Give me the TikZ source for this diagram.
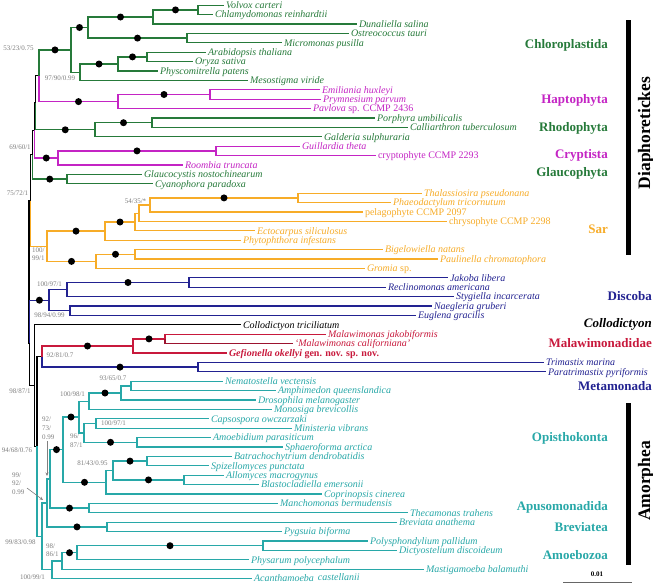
\documentclass[tikz,border=0pt]{standalone}
\usepackage{fontspec}
\setmainfont{Liberation Serif}
\usetikzlibrary{arrows.meta}
\definecolor{cgreen}{RGB}{38,122,58}
\definecolor{cmag}{RGB}{196,36,196}
\definecolor{corange}{RGB}{247,172,40}
\definecolor{cblue}{RGB}{34,34,145}
\definecolor{cred}{RGB}{200,25,60}
\definecolor{cteal}{RGB}{40,168,168}
\definecolor{cgray}{RGB}{128,128,128}
\newcommand{\tipf}{\fontsize{10}{11}\selectfont\itshape}
\newcommand{\supf}{\fontsize{7}{8}\selectfont}
\newcommand{\cladef}{\fontsize{13}{14}\selectfont\bfseries}
\newcommand{\bigf}{\fontsize{17.5}{19}\selectfont\bfseries}
\newcommand{\brn}[3]{\draw[brl,#1] (#2) |- (#3);}
\newcommand{\brd}[3]{\draw[brl,#1] (#2) |- (#3) node[pos=0.75,dotn]{};}
\tikzset{
  brl/.style={line width=1.35pt},
  dotn/.style={circle,fill=black,inner sep=0pt,minimum size=7pt},
  tip/.style={anchor=west,inner xsep=1.8pt,inner ysep=0pt,text height=6.6pt,text depth=0pt,font=\tipf},
  bsl/.style={font=\supf,text=cgray,inner sep=0pt},
  cladel/.style={anchor=east,inner sep=0pt,font=\cladef},
  grp/.style={font=\bigf,rotate=90,inner sep=0pt},
  arw/.style={cgray,line width=0.6pt,-{Stealth[length=3.5pt,width=3pt]}}
}
\begin{document}
\begin{tikzpicture}[x=1pt,y=-1pt]
\fill[white] (0,0) rectangle (653,584);
\useasboundingbox (0,0) rectangle (653,584);
% internal nodes
\coordinate (nVC) at (198,9.9);
\coordinate (nDun) at (153,17);
\coordinate (nOM) at (187,38.1);
\coordinate (nCa) at (88,27.5);
\coordinate (nAO) at (147,56.9);
\coordinate (nLP) at (118,64);
\coordinate (nStr) at (80,72.2);
\coordinate (nChl) at (71,49.9);
\coordinate (nEP) at (210,94.5);
\coordinate (nHap) at (118,101.6);
\coordinate (nCH) at (39,75.7);
\coordinate (nPC) at (152,122.7);
\coordinate (nRho) at (95,129.8);
\coordinate (nG) at (35.5,102.7);
\coordinate (nGc) at (216,150.9);
\coordinate (nCry) at (58,158);
\coordinate (nF) at (34.5,130.3);
\coordinate (nGla) at (67,179.1);
\coordinate (nE) at (32.5,154.7);
\coordinate (nTP) at (298,197.9);
\coordinate (nPel) at (150,205);
\coordinate (nChr) at (139,213.2);
\coordinate (nEct) at (135,222);
\coordinate (nStm) at (105,231.1);
\coordinate (nBP) at (135,254.3);
\coordinate (nRhz) at (96,261.4);
\coordinate (nSar) at (47,246.3);
\coordinate (nDia) at (30.5,200.5);
\coordinate (nJR) at (189,282.5);
\coordinate (nJRS) at (67,289.6);
\coordinate (nNE) at (70,310.7);
\coordinate (nDis) at (49,300.2);
\coordinate (nMM) at (165,338.9);
\coordinate (nMal) at (133,346);
\coordinate (nTri) at (198,367.1);
\coordinate (nMet) at (42,356.5);
\coordinate (nNA) at (131,385.9);
\coordinate (nDro) at (121,393);
\coordinate (nMon) at (89,401.2);
\coordinate (nCM) at (96,423.5);
\coordinate (nAS) at (137,442.3);
\coordinate (nIch) at (84,432.9);
\coordinate (nHol) at (79,417);
\coordinate (nBS) at (147,461.1);
\coordinate (nAB) at (184,479.9);
\coordinate (nBA) at (113,470.5);
\coordinate (nFun) at (106,482.3);
\coordinate (nOpi) at (63,449.6);
\coordinate (nApu) at (89,508.1);
\coordinate (nOA) at (50,478.9);
\coordinate (nBre) at (107,526.9);
\coordinate (nOb) at (47,502.9);
\coordinate (nPD) at (263,545.7);
\coordinate (nPhy) at (77,552.7);
\coordinate (nMas) at (62,561);
\coordinate (nAmz) at (52,569.8);
\coordinate (nAmo) at (42,536.4);
\coordinate (nB) at (37,446.4);
\coordinate (nA) at (34.5,385.6);
\coordinate (nX) at (29.8,343);
\coordinate (nR) at (29,271.8);
% tips
\node[tip,text=cgreen] (t0) at (224,5.2) {Volvox carteri};
\node[tip,text=cgreen] (t1) at (213,14.6) {Chlamydomonas reinhardtii};
\node[tip,text=cgreen] (t2) at (357,24.0) {Dunaliella salina};
\node[tip,text=cgreen] (t3) at (349,33.4) {Ostreococcus tauri};
\node[tip,text=cgreen] (t4) at (282,42.8) {Micromonas pusilla};
\node[tip,text=cgreen] (t5) at (206,52.2) {Arabidopsis thaliana};
\node[tip,text=cgreen] (t6) at (193,61.6) {Oryza sativa};
\node[tip,text=cgreen] (t7) at (158,71.0) {Physcomitrella patens};
\node[tip,text=cgreen] (t8) at (248,80.4) {Mesostigma viride};
\node[tip,text=cmag] (t9) at (320,89.8) {Emiliania huxleyi};
\node[tip,text=cmag] (t10) at (321,99.2) {Prymnesium parvum};
\node[tip,text=cmag] (t11) at (311,108.6) {Pavlova \upshape sp. CCMP 2436};
\node[tip,text=cgreen] (t12) at (375,118.0) {Porphyra umbilicalis};
\node[tip,text=cgreen] (t13) at (408,127.4) {Calliarthron tuberculosum};
\node[tip,text=cgreen] (t14) at (322,136.8) {Galderia sulphuraria};
\node[tip,text=cmag] (t15) at (300,146.2) {Guillardia theta};
\node[tip,text=cmag] (t16) at (376,155.6) {\upshape cryptophyte CCMP 2293};
\node[tip,text=cmag] (t17) at (183,165.0) {Roombia truncata};
\node[tip,text=cgreen] (t18) at (142,174.4) {Glaucocystis nostochinearum};
\node[tip,text=cgreen] (t19) at (153,183.8) {Cyanophora paradoxa};
\node[tip,text=corange] (t20) at (422,193.2) {Thalassiosira pseudonana};
\node[tip,text=corange] (t21) at (391,202.6) {Phaeodactylum tricornutum};
\node[tip,text=corange] (t22) at (363,212.0) {\upshape pelagophyte CCMP 2097};
\node[tip,text=corange] (t23) at (447,221.4) {\upshape chrysophyte CCMP 2298};
\node[tip,text=corange] (t24) at (255,230.8) {Ectocarpus siliculosus};
\node[tip,text=corange] (t25) at (241,240.2) {Phytophthora infestans};
\node[tip,text=corange] (t26) at (383,249.6) {Bigelowiella natans};
\node[tip,text=corange] (t27) at (438,259.0) {Paulinella chromatophora};
\node[tip,text=corange] (t28) at (365,268.4) {Gromia \upshape sp.};
\node[tip,text=cblue] (t29) at (448,277.8) {Jakoba libera};
\node[tip,text=cblue] (t30) at (386,287.2) {Reclinomonas americana};
\node[tip,text=cblue] (t31) at (454,296.6) {Stygiella incarcerata};
\node[tip,text=cblue] (t32) at (432,306.0) {Naegleria gruberi};
\node[tip,text=cblue] (t33) at (416,315.4) {Euglena gracilis};
\node[tip,text=black] (t34) at (241,324.8) {Collodictyon triciliatum};
\node[tip,text=cred] (t35) at (326,334.2) {Malawimonas jakobiformis};
\node[tip,text=cred] (t36) at (293,343.6) {`Malawimonas californiana'};
\node[tip,text=cred] (t37) at (227,353.0) {\bfseries Gefionella okellyi \upshape gen. nov. sp. nov.};
\node[tip,text=cblue] (t38) at (544,362.4) {Trimastix marina};
\node[tip,text=cblue] (t39) at (546,371.8) {Paratrimastix pyriformis};
\node[tip,text=cteal] (t40) at (223,381.2) {Nematostella vectensis};
\node[tip,text=cteal] (t41) at (276,390.6) {Amphimedon queenslandica};
\node[tip,text=cteal] (t42) at (256,400.0) {Drosophila melanogaster};
\node[tip,text=cteal] (t43) at (272,409.4) {Monosiga brevicollis};
\node[tip,text=cteal] (t44) at (209,418.8) {Capsospora owczarzaki};
\node[tip,text=cteal] (t45) at (292,428.2) {Ministeria vibrans};
\node[tip,text=cteal] (t46) at (211,437.6) {Amoebidium parasiticum};
\node[tip,text=cteal] (t47) at (283,447.0) {Sphaeroforma arctica};
\node[tip,text=cteal] (t48) at (232,456.4) {Batrachochytrium dendrobatidis};
\node[tip,text=cteal] (t49) at (209,465.8) {Spizellomyces punctata};
\node[tip,text=cteal] (t50) at (224,475.2) {Allomyces macrogynus};
\node[tip,text=cteal] (t51) at (259,484.6) {Blastocladiella emersonii};
\node[tip,text=cteal] (t52) at (322,494.0) {Coprinopsis cinerea};
\node[tip,text=cteal] (t53) at (278,503.4) {Manchomonas bermudensis};
\node[tip,text=cteal] (t54) at (408,512.8) {Thecamonas trahens};
\node[tip,text=cteal] (t55) at (397,522.2) {Breviata anathema};
\node[tip,text=cteal] (t56) at (282,531.6) {Pygsuia biforma};
\node[tip,text=cteal] (t57) at (368,541.0) {Polysphondylium pallidum};
\node[tip,text=cteal] (t58) at (397,550.4) {Dictyostelium discoideum};
\node[tip,text=cteal] (t59) at (249,559.8) {Physarum polycephalum};
\node[tip,text=cteal] (t60) at (424,569.2) {Mastigamoeba balamuthi};
\node[tip,text=cteal] (t61) at (252,578.6) {Acanthamoeba\hspace{4pt}\raisebox{1.5pt}{castellanii}};
% backbone
\brn{black}{nR}{nDia}
\brn{black}{nR}{nX}
\brn{black}{nDia}{nE}
\brn{corange}{nDia}{nSar}
\brn{black}{nE}{nF}
\brd{cgreen}{nE}{nGla}
\brn{black}{nF}{nG}
\brd{cmag}{nF}{nCry}
\brn{black}{nG}{nCH}
\brd{cgreen}{nG}{nRho}
% Chloroplastida + Haptophyta
\brd{cgreen}{nCH}{nChl}
\brd{cmag}{nCH}{nHap}
\brd{cgreen}{nChl}{nCa}
\brn{cgreen}{nChl}{nStr}
\brd{cgreen}{nCa}{nDun}
\brd{cgreen}{nCa}{nOM}
\brd{cgreen}{nDun}{nVC}
\brn{cgreen}{nVC}{t0.west}
\brn{cgreen}{nVC}{t1.west}
\brn{cgreen}{nDun}{t2.west}
\brn{cgreen}{nOM}{t3.west}
\brn{cgreen}{nOM}{t4.west}
\brd{cgreen}{nStr}{nLP}
\brd{cgreen}{nLP}{nAO}
\brn{cgreen}{nAO}{t5.west}
\brn{cgreen}{nAO}{t6.west}
\brn{cgreen}{nLP}{t7.west}
\brn{cgreen}{nStr}{t8.west}
\brd{cmag}{nHap}{nEP}
\brn{cmag}{nEP}{t9.west}
\brn{cmag}{nEP}{t10.west}
\brn{cmag}{nHap}{t11.west}
% Rhodophyta
\brd{cgreen}{nRho}{nPC}
\brn{cgreen}{nPC}{t12.west}
\brn{cgreen}{nPC}{t13.west}
\brn{cgreen}{nRho}{t14.west}
% Cryptista
\brd{cmag}{nCry}{nGc}
\brn{cmag}{nGc}{t15.west}
\brn{cmag}{nGc}{t16.west}
\brn{cmag}{nCry}{t17.west}
% Glaucophyta
\brn{cgreen}{nGla}{t18.west}
\brn{cgreen}{nGla}{t19.west}
% Sar
\brd{corange}{nSar}{nStm}
\brd{corange}{nSar}{nRhz}
\brd{corange}{nStm}{nEct}
\brn{corange}{nEct}{nChr}
\brn{corange}{nChr}{nPel}
\brd{corange}{nPel}{nTP}
\brn{corange}{nTP}{t20.west}
\brn{corange}{nTP}{t21.west}
\brn{corange}{nPel}{t22.west}
\brn{corange}{nChr}{t23.west}
\brn{corange}{nEct}{t24.west}
\brn{corange}{nStm}{t25.west}
\brd{corange}{nRhz}{nBP}
\brn{corange}{nBP}{t26.west}
\brn{corange}{nBP}{t27.west}
\brn{corange}{nRhz}{t28.west}
% Discoba
\brd{cblue}{nX}{nDis}
\brn{cblue}{nDis}{nJRS}
\brn{cblue}{nDis}{nNE}
\brd{cblue}{nJRS}{nJR}
\brn{cblue}{nJR}{t29.west}
\brn{cblue}{nJR}{t30.west}
\brn{cblue}{nJRS}{t31.west}
\brn{cblue}{nNE}{t32.west}
\brn{cblue}{nNE}{t33.west}
% Collodictyon, Malawimonadidae, Metamonada
\brn{black}{nX}{nA}
\brn{black}{nA}{t34.west}
\brn{black}{nA}{nB}
\brn{black}{nB}{nMet}
\brd{cred}{nMet}{nMal}
\brd{cred}{nMal}{nMM}
\brn{cred}{nMM}{t35.west}
\brn{cred!78!black}{nMM}{t36.west}
\brn{cred}{nMal}{t37.west}
\brd{cblue}{nMet}{nTri}
\brn{cblue}{nTri}{t38.west}
\brn{cblue}{nTri}{t39.west}
% Amorphea
\brn{cteal}{nB}{nAmo}
\brn{cteal}{nAmo}{nOb}
\brn{cteal}{nAmo}{nAmz}
\brn{cteal}{nOb}{nOA}
\brd{cteal}{nOb}{nBre}
\brd{cteal}{nOA}{nOpi}
\brd{cteal}{nOA}{nApu}
\brd{cteal}{nOpi}{nHol}
\brd{cteal}{nOpi}{nFun}
\brn{cteal}{nHol}{nMon}
\brn{cteal}{nHol}{nIch}
\brd{cteal}{nMon}{nDro}
\brn{cteal}{nDro}{nNA}
\brn{cteal}{nNA}{t40.west}
\brn{cteal}{nNA}{t41.west}
\brn{cteal}{nDro}{t42.west}
\brn{cteal}{nMon}{t43.west}
\brn{cteal}{nIch}{nCM}
\brd{cteal}{nIch}{nAS}
\brn{cteal}{nCM}{t44.west}
\brn{cteal}{nCM}{t45.west}
\brn{cteal}{nAS}{t46.west}
\brn{cteal}{nAS}{t47.west}
\brn{cteal}{nFun}{nBA}
\brd{cteal}{nBA}{nBS}
\brd{cteal}{nBA}{nAB}
\brn{cteal}{nBS}{t48.west}
\brn{cteal}{nBS}{t49.west}
\brn{cteal}{nAB}{t50.west}
\brn{cteal}{nAB}{t51.west}
\brn{cteal}{nFun}{t52.west}
\brn{cteal}{nApu}{t53.west}
\brn{cteal}{nApu}{t54.west}
\brn{cteal}{nBre}{t55.west}
\brn{cteal}{nBre}{t56.west}
\brn{cteal}{nAmz}{nMas}
\brd{cteal}{nMas}{nPhy}
\brd{cteal}{nPhy}{nPD}
\brn{cteal}{nPD}{t57.west}
\brn{cteal}{nPD}{t58.west}
\brn{cteal}{nPhy}{t59.west}
\brn{cteal}{nMas}{t60.west}
\brn{cteal}{nAmz}{t61.west}
% support values
\node[bsl] (s1) at (18.5,48) {53/23/0.75};
\node[bsl] (s2) at (60,78) {97/90/0.99};
\node[bsl] (s3) at (20,147) {69/60/1};
\node[bsl] (s4) at (17.5,193) {75/72/1};
\node[bsl] (s5) at (135.5,201) {54/35/*};
\node[bsl,anchor=west] (s6a) at (32,250) {100/};
\node[bsl,anchor=west] (s6b) at (32,258.5) {99/1};
\node[bsl] (s7) at (49.5,284) {100/97/1};
\node[bsl] (s8) at (49.5,315) {98/94/0.99};
\node[bsl] (s9) at (60,355) {92/81/0.7};
\node[bsl] (s10) at (20,391) {98/87/1};
\node[bsl] (s11) at (113,378.5) {93/65/0.7};
\node[bsl] (s12) at (72.5,394) {100/98/1};
\node[bsl,anchor=west] (s13a) at (42,419) {92/};
\node[bsl,anchor=west] (s13b) at (42,428) {73/};
\node[bsl,anchor=west] (s13c) at (42,437) {0.99};
\node[bsl] (s14) at (113.5,423) {100/97/1};
\node[bsl,anchor=west] (s15a) at (70,436) {96/};
\node[bsl,anchor=west] (s15b) at (70,445) {87/1};
\node[bsl] (s16) at (17,450) {94/68/0.76};
\node[bsl] (s17) at (92.5,463) {81/43/0.95};
\node[bsl,anchor=west] (s18a) at (12,475) {99/};
\node[bsl,anchor=west] (s18b) at (12,483.5) {92/};
\node[bsl,anchor=west] (s18c) at (12,492) {0.99};
\node[bsl] (s19) at (20.5,542) {99/83/0.98};
\node[bsl,anchor=west] (s20a) at (46,546) {98/};
\node[bsl,anchor=west] (s20b) at (46,554.5) {86/1};
\node[bsl] (s21) at (32.5,577) {100/99/1};
\coordinate (a1s) at (47,441);
\coordinate (a1e) at (47,476);
\draw[arw] (a1s) -- (a1e);
\coordinate (a2s) at (27,488);
\coordinate (a2e) at (43,500);
\draw[arw] (a2s) -- (a2e);
% clade labels
\node[cladel,text=cgreen] (c1) at (608,45.5) {Chloroplastida};
\node[cladel,text=cmag] (c2) at (608,100) {Haptophyta};
\node[cladel,text=cgreen] (c3) at (608,128) {Rhodophyta};
\node[cladel,text=cmag] (c4) at (608,155) {Cryptista};
\node[cladel,text=cgreen] (c5) at (608,173.5) {Glaucophyta};
\node[cladel,text=corange] (c6) at (608,229) {Sar};
\node[cladel,text=cblue] (c7) at (652,296) {Discoba};
\node[cladel,text=black] (c8) at (652,324) {\itshape Collodictyon};
\node[cladel,text=cred] (c9) at (652,343.5) {Malawimonadidae};
\node[cladel,text=cblue] (c10) at (652,386) {Metamonada};
\node[cladel,text=cteal] (c11) at (608,438) {Opisthokonta};
\node[cladel,text=cteal] (c12) at (608,507) {Apusomonadida};
\node[cladel,text=cteal] (c13) at (608,527) {Breviatea};
\node[cladel,text=cteal] (c14) at (608,555) {Amoebozoa};
% groups
\coordinate (g1a) at (628.5,20);
\coordinate (g1b) at (628.5,255);
\draw[line width=5.5pt] (g1a) -- (g1b);
\node[grp] (g1) at (646,133) {Diaphoretickes};
\coordinate (g2a) at (628.5,403);
\coordinate (g2b) at (628.5,565);
\draw[line width=5.5pt] (g2a) -- (g2b);
\node[grp] (g2) at (646,481) {Amorphea};
% scale bar
\coordinate (sb1) at (563,582);
\coordinate (sb2) at (632,582);
\draw[line width=0.9pt,black!60] (sb1) -- (sb2);
\node[font=\fontsize{7}{8}\selectfont\bfseries,inner sep=0pt] (sbl) at (597,574) {0.01};
\end{tikzpicture}
\end{document}
